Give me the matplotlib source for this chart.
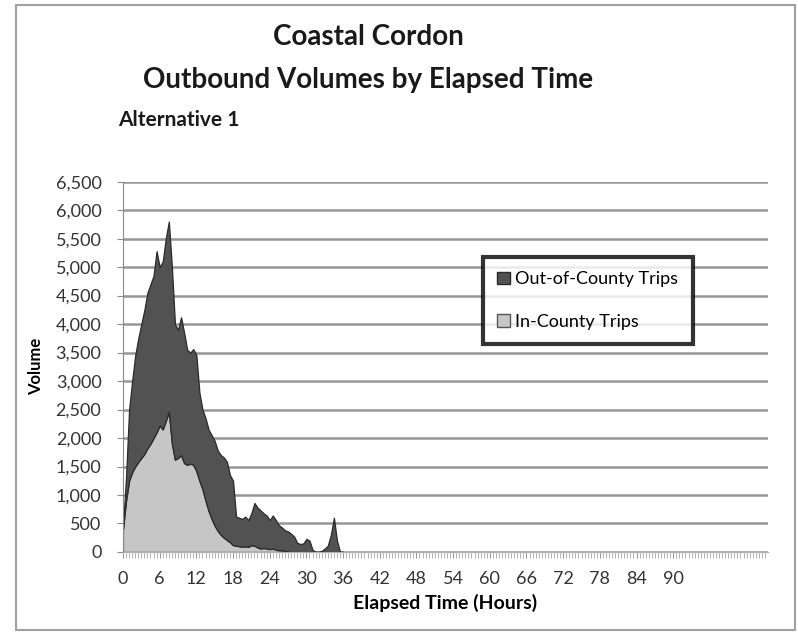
import matplotlib
matplotlib.use('Agg')
import matplotlib.pyplot as plt
from matplotlib.patches import Patch, Rectangle
from matplotlib.ticker import FuncFormatter
import numpy as np

plt.rcParams['font.family'] = ['Lato', 'DejaVu Sans']

# half-hour steps, 0 to 36 hours
hours = np.arange(0, 36.5, 0.5)

in_county = [
    400, 900, 1250, 1400, 1500, 1580, 1650, 1720, 1820, 1900,
    2000, 2100, 2220, 2150, 2300, 2460, 1900, 1620, 1650, 1700,
    1560, 1530, 1550, 1530, 1420, 1250, 1100, 900, 720, 580,
    460, 370, 300, 250, 210, 170, 120, 110, 100, 90,
    100, 90, 120, 110, 80, 60, 70, 60, 50, 60,
    40, 30, 30, 20, 10, 0, 0, 0, 0, 0,
    0, 0, 0, 0, 0, 0, 0, 0, 0, 0,
    0, 0, 0,
]

out_county = [
    50, 400, 1250, 1600, 1950, 2170, 2350, 2530, 2730, 2800,
    2850, 3180, 2780, 2950, 3200, 3340, 3100, 2380, 2250, 2420,
    2290, 2020, 1950, 2030, 2040, 1550, 1400, 1450, 1430, 1470,
    1490, 1410, 1400, 1410, 1370, 1180, 1130, 510, 500, 490,
    520, 470, 560, 750, 700, 670, 610, 580, 510, 580,
    520, 440, 400, 360, 350, 320, 270, 160, 140, 150,
    230, 200, 40, 0, 0, 20, 60, 110, 300, 600,
    200, 0, 0,
]

x_ticks = list(range(0, 91, 6))
y_ticks = list(range(0, 6501, 500))

fig = plt.figure(figsize=(7.98, 6.33), dpi=100)
ax = fig.add_axes([0.1541, 0.128, 0.8083, 0.585])

ax.stackplot(hours, in_county, out_county,
             colors=['#c6c6c6', '#525252'],
             edgecolor='#2a2a2a', linewidth=0.9)

ax.set_xlim(0, 105.5)
ax.set_ylim(0, 6500)
ax.set_yticks(y_ticks)
ax.yaxis.set_major_formatter(FuncFormatter(lambda v, p: f'{int(v):,}'))
ax.set_xticks(x_ticks)
ax.set_xticks(np.arange(0, 105.5, 0.5), minor=True)
ax.grid(axis='y', color='#979797', linewidth=1.8)
ax.set_axisbelow(True)

for side in ('top', 'right'):
    ax.spines[side].set_visible(False)
ax.spines['left'].set_color('#8a8a8a')
ax.spines['bottom'].set_color('#b0b0b0')
ax.tick_params(axis='y', length=4.5, color='#8a8a8a', labelsize=13,
               labelcolor='#333333', pad=11)
ax.tick_params(axis='x', which='major', length=4, color='#999999',
               labelsize=13, labelcolor='#333333', pad=10)
ax.tick_params(axis='x', which='minor', length=4, color='#aaaaaa', width=0.6)

ax.set_ylabel('Volume', fontsize=12, fontweight='bold', labelpad=8)
ax.set_xlabel('Elapsed Time (Hours)', fontsize=14, fontweight='bold', labelpad=5)

fig.text(0.461, 0.941, 'Coastal Cordon', ha='center', va='center',
         fontsize=20, fontweight='bold', color='#1a1a1a')
fig.text(0.461, 0.873, 'Outbound Volumes by Elapsed Time', ha='center', va='center',
         fontsize=20, fontweight='bold', color='#1a1a1a')
fig.text(0.148, 0.810, 'Alternative 1', ha='left', va='center',
         fontsize=15, fontweight='bold', color='#1a1a1a')

handles = [Patch(facecolor='#525252', edgecolor='#2a2a2a', label='Out-of-County Trips'),
           Patch(facecolor='#c6c6c6', edgecolor='#555555', label='In-County Trips')]
leg = fig.legend(handles=handles, loc='upper left', bbox_to_anchor=(0.605, 0.594),
                 fontsize=13, frameon=True, fancybox=False, borderpad=0.8,
                 labelspacing=1.45, handlelength=0.7, handleheight=0.7,
                 handletextpad=0.3, borderaxespad=0)
leg.get_frame().set_edgecolor('black')
leg.get_frame().set_linewidth(3)

# thin frame round the whole chart
fig.add_artist(Rectangle((16 / 798, 3 / 633), 779 / 798, 625 / 633,
                         transform=fig.transFigure, fill=False,
                         edgecolor='#a0a0a0', linewidth=1.5))

fig.savefig('out.png', dpi=100)
